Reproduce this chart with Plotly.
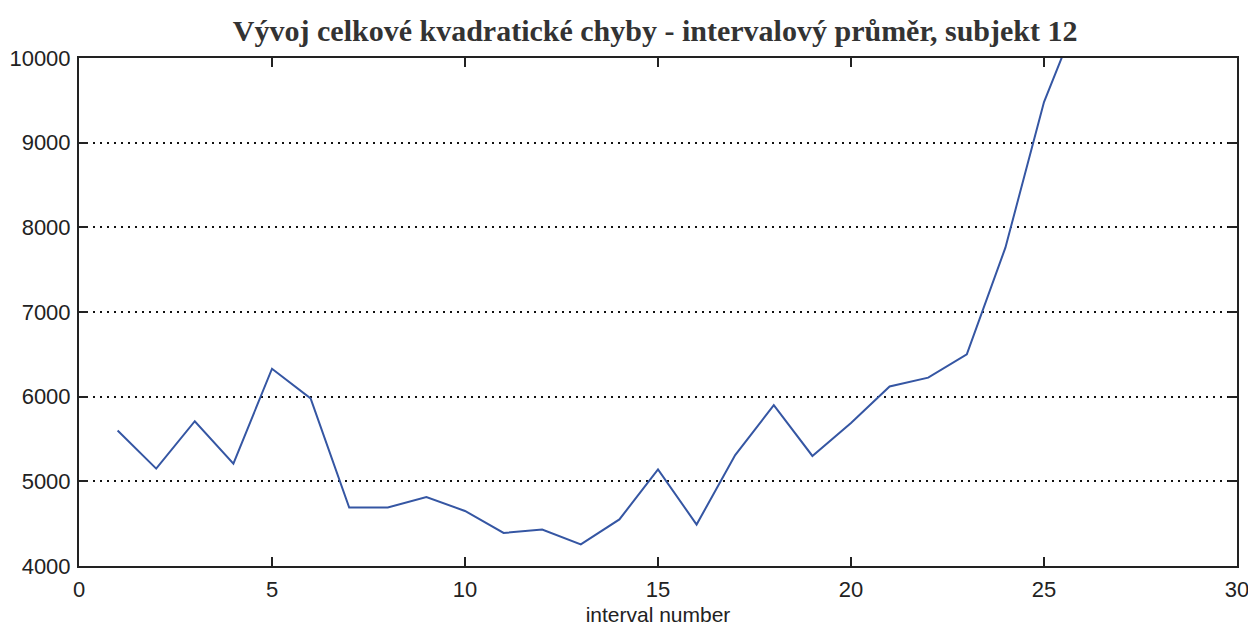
import plotly.graph_objects as go

# Interval index and total squared error (interval average), subject 12
interval = [1, 2, 3, 4, 5, 6, 7, 8, 9, 10, 11, 12, 13,
            14, 15, 16, 17, 18, 19, 20, 21, 22, 23, 24, 25, 26]
error = [5600, 5150, 5710, 5210, 6330, 5980, 4690, 4690, 4815, 4650, 4390, 4430, 4255,
         4550, 5140, 4490, 5310, 5900, 5300, 5690, 6120, 6225, 6500, 7760, 9480, 10620]

x_ticks = [0, 5, 10, 15, 20, 25, 30]
y_ticks = [4000, 5000, 6000, 7000, 8000, 9000, 10000]

title_text = "Vývoj celkové kvadratické chyby - intervalový průměr, subjekt 12"
x_title = "interval number"

fig = go.Figure()
fig.add_trace(go.Scatter(
    x=interval, y=error, mode="lines",
    line=dict(color="#3556a3", width=2),
    showlegend=False,
))

sans = "Liberation Sans Narrow, Arial Narrow, Liberation Sans, Arial"
tick_font = dict(family=sans, size=22, color="#222222")

fig.update_layout(
    width=1248, height=627,
    paper_bgcolor="white", plot_bgcolor="white",
    margin=dict(l=79, r=11, t=58, b=61),
    title=dict(text=title_text, x=0.525, xanchor="center", y=0.952, yanchor="middle",
               font=dict(family="Liberation Serif, Times New Roman, serif", size=30,
                         color="#333333", weight="bold")),
)

fig.update_xaxes(
    range=[0, 30], tickvals=x_ticks, ticktext=[str(v) for v in x_ticks],
    showgrid=False, zeroline=False, automargin=False,
    ticklabeloverflow="allow",
    showline=True, linecolor="#222222", linewidth=2, mirror="ticks",
    ticks="inside", ticklen=9, tickwidth=2, tickcolor="#222222",
    tickfont=tick_font, ticklabelstandoff=3,
    title=dict(text=x_title, standoff=6,
               font=dict(family=sans, size=21, color="#222222")),
)
fig.update_yaxes(
    range=[4000, 10000], tickvals=y_ticks, ticktext=[str(v) for v in y_ticks],
    showgrid=True, gridcolor="#111111", gridwidth=2, griddash="2px,5px",
    zeroline=False, automargin=False,
    ticklabeloverflow="allow",
    showline=True, linecolor="#222222", linewidth=2, mirror="ticks",
    ticks="inside", ticklen=9, tickwidth=2, tickcolor="#222222",
    tickfont=tick_font, ticklabelstandoff=2,
)

fig.write_html("out.html")
